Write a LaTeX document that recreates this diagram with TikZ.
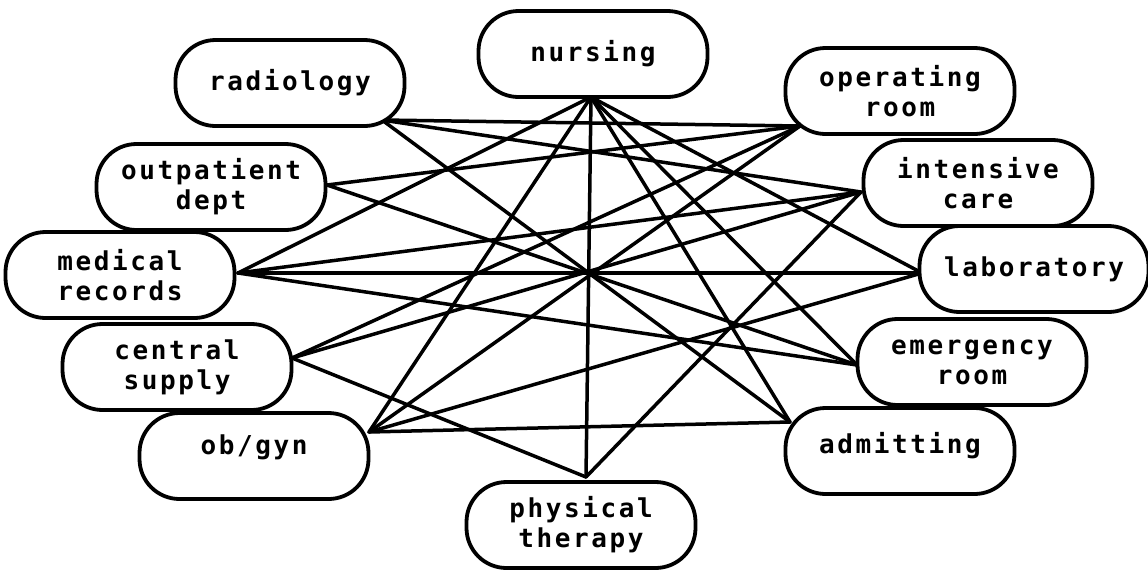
\documentclass[tikz,border=0pt]{standalone}
\usepackage{fontspec}
\newfontfamily\labfont[LetterSpace=10]{DejaVu Sans Mono}
\pgfdeclarelayer{background}
\pgfsetlayers{background,main}
\tikzset{
  unitbox/.style={draw, fill=white, line width=3.8pt, rounded corners=40pt,
    minimum width=229pt, minimum height=86pt, inner sep=0pt, align=center,
    font=\labfont\bfseries\fontsize{26}{30}\selectfont},
  link/.style={line width=3.5pt, line cap=round}
}
\begin{document}
\begin{tikzpicture}[x=1pt,y=-1pt]
\useasboundingbox (0,0) rectangle (1148,571);
% departments
\node[unitbox] (nur) at (593,54)  {nursing};
\node[unitbox] (rad) at (290,83)  {radiology};
\node[unitbox] (opr) at (900,91)  {operating\\room};
\node[unitbox] (out) at (211,187) {outpatient\\dept};
\node[unitbox] (ic)  at (978,183) {intensive\\care};
\node[unitbox] (med) at (120,275) {medical\\records};
\node[unitbox] (lab) at (1034,269) {laboratory};
\node[unitbox] (cs)  at (177,367) {central\\supply};
\node[unitbox] (er)  at (972,362) {emergency\\room};
\node[unitbox, text depth=22pt] (ob)  at (254,456) {ob/gyn};
\node[unitbox, text depth=16pt] (adm) at (900,451) {admitting};
\node[unitbox] (pt)  at (581,525) {physical\\therapy};
% connection points on the boxes
\coordinate (radP) at (382,120);
\coordinate (nurP) at (591,97);
\coordinate (oprP) at (800,126);
\coordinate (outP) at (327,185);
\coordinate (icP)  at (861,192);
\coordinate (medP) at (238,273);
\coordinate (labP) at (922,273);
\coordinate (csP)  at (292,358);
\coordinate (erP)  at (857,365);
\coordinate (obP)  at (369,432);
\coordinate (admP) at (790,422);
\coordinate (ptP)  at (586,477);
\begin{pgfonlayer}{background}
\draw[link] (radP) -- (oprP);
\draw[link] (radP) -- (icP);
\draw[link] (radP) -- (admP);
\draw[link] (nurP) -- (medP);
\draw[link] (nurP) -- (obP);
\draw[link] (nurP) -- (ptP);
\draw[link] (nurP) -- (admP);
\draw[link] (nurP) -- (erP);
\draw[link] (nurP) -- (labP);
\draw[link] (outP) -- (oprP);
\draw[link] (outP) -- (erP);
\draw[link] (medP) -- (icP);
\draw[link] (medP) -- (labP);
\draw[link] (medP) -- (erP);
\draw[link] (csP) -- (oprP);
\draw[link] (csP) -- (icP);
\draw[link] (csP) -- (ptP);
\draw[link] (obP) -- (oprP);
\draw[link] (obP) -- (labP);
\draw[link] (obP) -- (admP);
\draw[link] (icP) -- (ptP);
\end{pgfonlayer}
\end{tikzpicture}
\end{document}
